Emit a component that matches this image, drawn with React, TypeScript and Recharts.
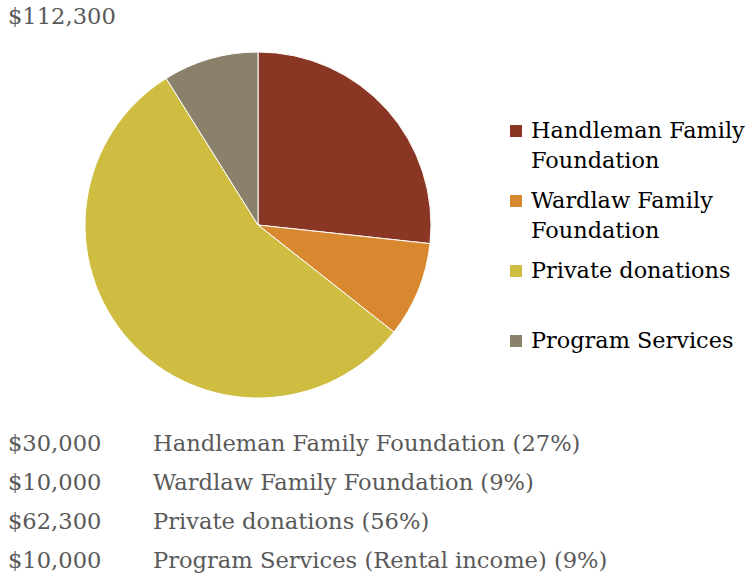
import { PieChart, Pie, Cell, Legend } from 'recharts';

const sources = ['Handleman Family Foundation', 'Wardlaw Family Foundation', 'Private donations', 'Program Services'];
const legendLines = [['Handleman Family', 'Foundation'], ['Wardlaw Family', 'Foundation'], ['Private donations'], ['Program Services']];
const amounts = [30000, 10000, 62300, 10000];
const detailLabels = [
  'Handleman Family Foundation (27%)',
  'Wardlaw Family Foundation (9%)',
  'Private donations (56%)',
  'Program Services (Rental income) (9%)',
];
const colors = ['#8A3624', '#D8892F', '#CFBD42', '#8B806A'];

const data = sources.map((name, i) => ({ name, value: amounts[i] }));
const total = amounts.reduce((a, b) => a + b, 0);
const money = (v: number) => '$' + v.toLocaleString('en-US');

const font = '"DejaVu Serif", serif';

function LegendBox() {
  return (
    <div style={{ fontFamily: font, fontSize: 22.4, color: '#000' }}>
      {legendLines.map((lines, i) => (
        <div key={i} style={{ display: 'flex', alignItems: 'flex-start', marginBottom: i === 2 ? 40 : 10 }}>
          <div style={{ width: 12, height: 12, background: colors[i], marginTop: 10, marginRight: 9 }} />
          <div style={{ lineHeight: '30px', whiteSpace: 'nowrap' }}>
            {lines.map((l) => (
              <div key={l}>{l}</div>
            ))}
          </div>
        </div>
      ))}
    </div>
  );
}

export default function App() {
  return (
    <div style={{ position: 'fixed', left: 0, top: 0, width: 747, height: 575, background: '#fff', fontFamily: font }}>
      <div style={{ position: 'absolute', left: 8, top: 3, fontSize: 22.6, color: '#595959' }}>{money(total)}</div>
      <PieChart width={747} height={420} margin={{ top: 0, right: 0, bottom: 0, left: 0 }}>
        <Pie
          data={data}
          dataKey="value"
          nameKey="name"
          cx={258}
          cy={225}
          outerRadius={173}
          startAngle={90}
          endAngle={-270}
          stroke="#fff"
          strokeWidth={1}
          isAnimationActive={false}
        >
          {data.map((d, i) => (
            <Cell key={d.name} fill={colors[i]} />
          ))}
        </Pie>
        <Legend
          layout="vertical"
          align="right"
          verticalAlign="top"
          wrapperStyle={{ left: 510, top: 115, width: 237 }}
          content={() => <LegendBox />}
        />
      </PieChart>
      {amounts.map((v, i) => (
        <div
          key={i}
          style={{
            position: 'absolute',
            left: 0,
            top: 430 + i * 39,
            fontSize: 22.6,
            color: '#595959',
            whiteSpace: 'nowrap',
          }}
        >
          <span style={{ position: 'absolute', left: 8 }}>{money(v)}</span>
          <span style={{ position: 'absolute', left: 153 }}>{detailLabels[i]}</span>
        </div>
      ))}
    </div>
  );
}
